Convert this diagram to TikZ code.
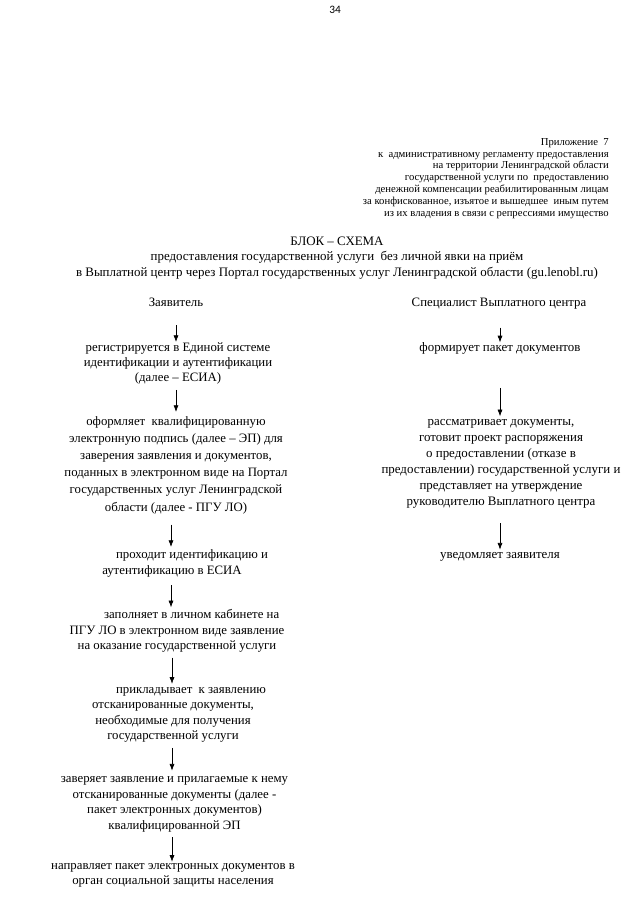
\documentclass[tikz,border=0pt]{standalone}
\usepackage{fontspec}
\setmainfont{Liberation Serif}
\newfontfamily\pagenumfont{Carlito}
\usetikzlibrary{arrows.meta}
\begin{document}
\begin{tikzpicture}[x=0.75pt,y=-0.75pt,
  txt/.style={inner sep=0pt,align=center,font=\fontsize{9.6}{11.6}\selectfont},
  widetxt/.style={inner sep=0pt,align=center,font=\fontsize{9.6}{12.9}\selectfont},
  rtxt/.style={inner sep=0pt,align=center,font=\fontsize{9.7}{12.1}\selectfont},
  arr/.style={-{Latex[length=5pt,width=3.8pt]},line width=0.5pt}]
\useasboundingbox[fill=white] (0,0) rectangle (640,905);
\coordinate (xL) at (176,0);
\coordinate (xR) at (500,0);
\node[inner sep=0pt,font=\pagenumfont\fontsize{8.5}{10}\selectfont] (pg) at (335,10) {34};
\node[inner sep=0pt,anchor=east,align=right,font=\fontsize{8}{8.9}\selectfont] (hdr) at (609,178.5)
 {Приложение\ \ 7\\к\ \ административному регламенту предоставления\\на территории Ленинградской области\\государственной услуги по\ \ предоставлению\\денежной компенсации реабилитированным лицам\\за конфискованное, изъятое и вышедшее\ \ иным путем\\из их владения в связи с репрессиями имущество};
\node[inner sep=0pt,align=center,font=\fontsize{9.7}{11.4}\selectfont] (title) at (337,258)
 {БЛОК – СХЕМА\\предоставления государственной услуги\ \ без личной явки на приём\\в Выплатной центр через Портал государственных услуг Ленинградской области (gu.lenobl.ru)};
\node[txt,anchor=base] (hdrL) at (176,306) {Заявитель};
\node[txt,anchor=base] (hdrR) at (499,306) {Специалист Выплатного центра};
\node[txt] (b1) at (178,363.5) {регистрируется в Единой системе\\идентификации и аутентификации\\(далее – ЕСИА)};
\node[widetxt] (b2) at (176,465) {оформляет\ \ квалифицированную\\электронную подпись (далее – ЭП) для\\заверения заявления и документов,\\поданных в электронном виде на Портал\\государственных услуг Ленинградской\\области (далее - ПГУ ЛО)};
\node[txt] (b3) at (172,563.5) {\hspace*{30pt}проходит идентификацию и\\аутентификацию в ЕСИА};
\node[txt] (b4) at (177,631) {\hspace*{22pt}заполняет в личном кабинете на\\ПГУ ЛО в электронном виде заявление\\на оказание государственной услуги};
\node[txt] (b5) at (173,715) {\hspace*{27pt}прикладывает\ \ к заявлению\\отсканированные документы,\\необходимые для получения\\государственной услуги};
\node[txt] (b6) at (174.5,804.5) {заверяет заявление и прилагаемые к нему\\отсканированные документы (далее -\\пакет электронных документов)\\квалифицированной ЭП};
\node[txt] (b7) at (173,875.5) {направляет пакет электронных документов в\\орган социальной защиты населения};
\node[rtxt] (r1) at (500,348.5) {формирует пакет документов};
\node[rtxt] (r2) at (501,464) {рассматривает документы,\\готовит проект распоряжения\\о предоставлении (отказе в\\предоставлении) государственной услуги и\\представляет на утверждение\\руководителю Выплатного центра};
\node[rtxt] (r3) at (500,557) {уведомляет заявителя};
\draw[arr,shorten <=14pt] (hdrL.south -| xL) -- (b1.north -| xL);
\draw[arr,shorten <=3.75pt,shorten >=3pt] (b1.south -| xL) -- (b2.north -| xL);
\draw[arr,shorten <=8pt,shorten >=2pt] (b2.south -| 171,0) -- (b3.north -| 171,0);
\draw[arr,shorten <=6pt,shorten >=1.5pt] (b3.south -| 171,0) -- (b4.north -| 171,0);
\draw[arr,shorten <=3.75pt,shorten >=2.5pt] (b4.south -| 172,0) -- (b5.north -| 172,0);
\draw[arr,shorten <=3.75pt,shorten >=4.5pt] (b5.south -| 172,0) -- (b6.north -| 172,0);
\draw[arr,shorten <=3.75pt,shorten >=1pt] (b6.south -| 172,0) -- (b7.north -| 172,0);
\draw[arr,shorten <=14pt] (hdrR.south -| xR) -- (r1.north -| xR);
\draw[arr,shorten <=25pt,shorten >=2pt] (r1.south -| xR) -- (r2.north -| xR);
\draw[arr,shorten <=10.5pt,shorten >=2pt] (r2.south -| xR) -- (r3.north -| xR);
\end{tikzpicture}
\end{document}
